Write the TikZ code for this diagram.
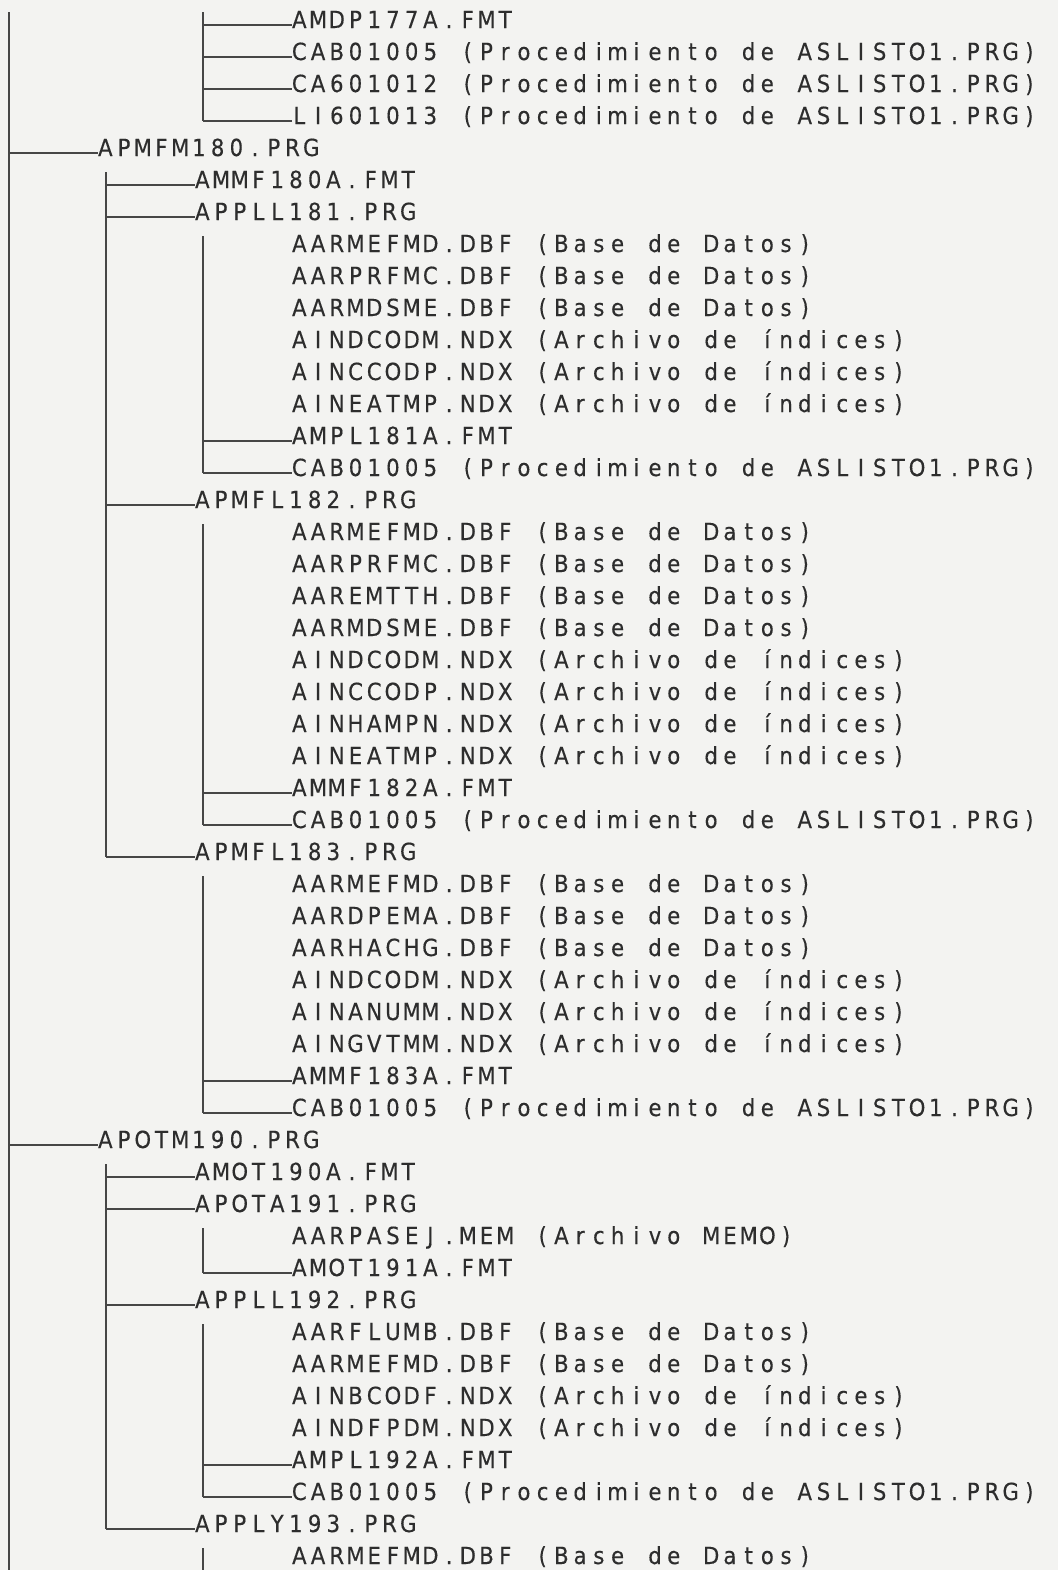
\documentclass[tikz,border=0pt]{standalone}
\usepackage{fontspec}
\newfontfamily\plotfont[FakeStretch=0.9,FakeBold=0.3]{DejaVu Sans}
\definecolor{paper}{RGB}{243,243,241}
\definecolor{ink}{RGB}{45,45,45}
\definecolor{wirec}{RGB}{70,70,70}
\newlength\mpitch
\setlength\mpitch{9.36pt}
\makeatletter
\def\mt@end{\mt@end}
\newcommand\mtxt[1]{\mt@aux#1\mt@end}
\def\mt@aux#1{\ifx#1\mt@end\else\makebox[\mpitch][c]{#1}\expandafter\mt@aux\fi}
\makeatother
\tikzset{
  lbl/.style={anchor=base west, inner sep=0pt, outer sep=0pt, text=ink,
    font=\plotfont\fontsize{11.8pt}{13pt}\selectfont},
  wire/.style={draw=wirec, line width=0.6pt}
}
\begin{document}
\begin{tikzpicture}[x=0.5pt,y=-0.5pt]
\fill[paper] (0,0) rectangle (1058,1570);
\useasboundingbox (0,0) rectangle (1058,1570);
\foreach \k/\lx/\t in {
 1/290/AMDP177A.FMT,
 2/290/CAB01005~(Procedimiento~de~ASLISTO1.PRG),
 3/290/CA601012~(Procedimiento~de~ASLISTO1.PRG),
 4/290/LI601013~(Procedimiento~de~ASLISTO1.PRG),
 5/96/APMFM180.PRG,
 6/193/AMMF180A.FMT,
 7/193/APPLL181.PRG,
 8/290/AARMEFMD.DBF~(Base~de~Datos),
 9/290/AARPRFMC.DBF~(Base~de~Datos),
 10/290/AARMDSME.DBF~(Base~de~Datos),
 11/290/AINDCODM.NDX~(Archivo~de~índices),
 12/290/AINCCODP.NDX~(Archivo~de~índices),
 13/290/AINEATMP.NDX~(Archivo~de~índices),
 14/290/AMPL181A.FMT,
 15/290/CAB01005~(Procedimiento~de~ASLISTO1.PRG),
 16/193/APMFL182.PRG,
 17/290/AARMEFMD.DBF~(Base~de~Datos),
 18/290/AARPRFMC.DBF~(Base~de~Datos),
 19/290/AAREMTTH.DBF~(Base~de~Datos),
 20/290/AARMDSME.DBF~(Base~de~Datos),
 21/290/AINDCODM.NDX~(Archivo~de~índices),
 22/290/AINCCODP.NDX~(Archivo~de~índices),
 23/290/AINHAMPN.NDX~(Archivo~de~índices),
 24/290/AINEATMP.NDX~(Archivo~de~índices),
 25/290/AMMF182A.FMT,
 26/290/CAB01005~(Procedimiento~de~ASLISTO1.PRG),
 27/193/APMFL183.PRG,
 28/290/AARMEFMD.DBF~(Base~de~Datos),
 29/290/AARDPEMA.DBF~(Base~de~Datos),
 30/290/AARHACHG.DBF~(Base~de~Datos),
 31/290/AINDCODM.NDX~(Archivo~de~índices),
 32/290/AINANUMM.NDX~(Archivo~de~índices),
 33/290/AINGVTMM.NDX~(Archivo~de~índices),
 34/290/AMMF183A.FMT,
 35/290/CAB01005~(Procedimiento~de~ASLISTO1.PRG),
 36/96/APOTM190.PRG,
 37/193/AMOT190A.FMT,
 38/193/APOTA191.PRG,
 39/290/AARPASEJ.MEM~(Archivo~MEMO),
 40/290/AMOT191A.FMT,
 41/193/APPLL192.PRG,
 42/290/AARFLUMB.DBF~(Base~de~Datos),
 43/290/AARMEFMD.DBF~(Base~de~Datos),
 44/290/AINBCODF.NDX~(Archivo~de~índices),
 45/290/AINDFPDM.NDX~(Archivo~de~índices),
 46/290/AMPL192A.FMT,
 47/290/CAB01005~(Procedimiento~de~ASLISTO1.PRG),
 48/193/APPLY193.PRG,
 49/290/AARMEFMD.DBF~(Base~de~Datos)}
{
  \node[lbl] (n\k) at (\lx,{28+32*(\k-1)}) {\expandafter\mtxt\expandafter{\t}};
  \coordinate (c\k) at ([xshift=1.2pt,yshift=1.5pt]n\k.base west);
}
% vertical line tops
\coordinate (rootT) at (9,12);
\coordinate (rootB) at (9,1570);
\coordinate (v0T) at (203,12);
\coordinate (v1aT) at (106,172);
\coordinate (v2aT) at (203,236);
\coordinate (v2bT) at (203,524);
\coordinate (v2cT) at (203,876);
\coordinate (v1bT) at (106,1164);
\coordinate (v2dT) at (203,1228);
\coordinate (v2eT) at (203,1324);
\coordinate (v2fT) at (203,1548);
\coordinate (v2fB) at (203,1570);
% root
\draw[wire] (rootT) -- (rootB);
\foreach \k in {5,36} \draw[wire] (rootT |- c\k) -- (c\k);
% top group
\draw[wire] (v0T) -- (v0T |- c4);
\foreach \k in {1,2,3,4} \draw[wire] (v0T |- c\k) -- (c\k);
% APMFM180
\draw[wire] (v1aT) -- (v1aT |- c27);
\foreach \k in {6,7,16,27} \draw[wire] (v1aT |- c\k) -- (c\k);
% APPLL181
\draw[wire] (v2aT) -- (v2aT |- c15);
\foreach \k in {14,15} \draw[wire] (v2aT |- c\k) -- (c\k);
% APMFL182
\draw[wire] (v2bT) -- (v2bT |- c26);
\foreach \k in {25,26} \draw[wire] (v2bT |- c\k) -- (c\k);
% APMFL183
\draw[wire] (v2cT) -- (v2cT |- c35);
\foreach \k in {34,35} \draw[wire] (v2cT |- c\k) -- (c\k);
% APOTM190
\draw[wire] (v1bT) -- (v1bT |- c48);
\foreach \k in {37,38,41,48} \draw[wire] (v1bT |- c\k) -- (c\k);
% APOTA191
\draw[wire] (v2dT) -- (v2dT |- c40);
\draw[wire] (v2dT |- c40) -- (c40);
% APPLL192
\draw[wire] (v2eT) -- (v2eT |- c47);
\foreach \k in {46,47} \draw[wire] (v2eT |- c\k) -- (c\k);
% APPLY193
\draw[wire] (v2fT) -- (v2fB);
\end{tikzpicture}
\end{document}
